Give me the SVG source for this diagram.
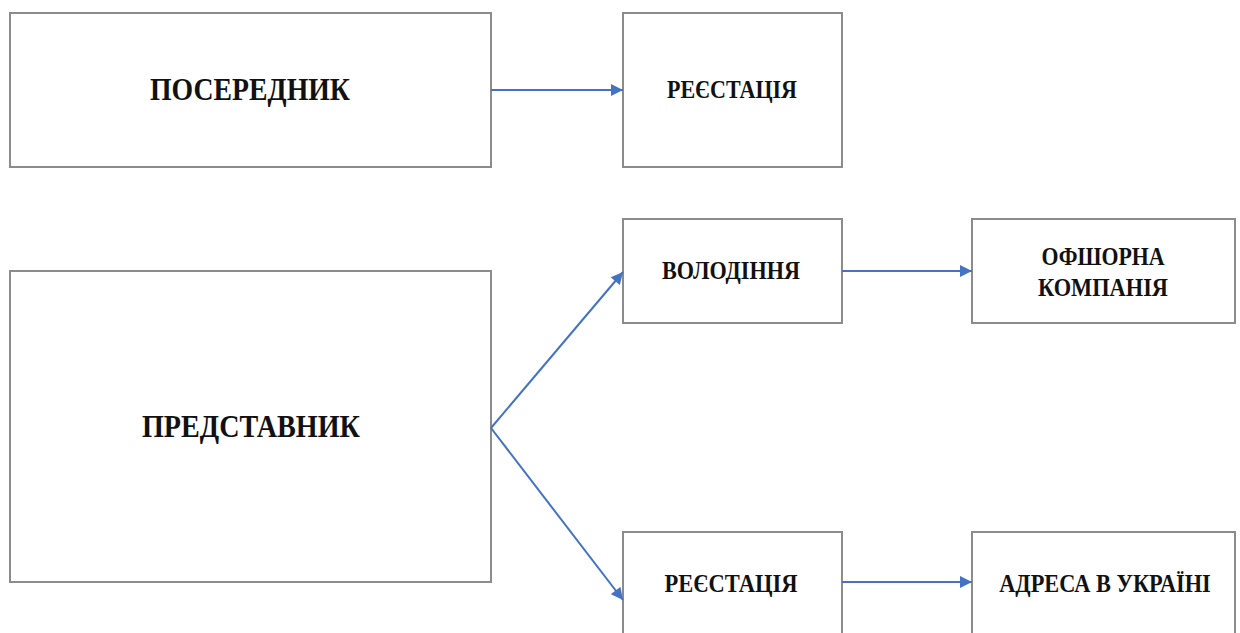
<svg xmlns="http://www.w3.org/2000/svg" width="1240" height="633" viewBox="0 0 1240 633">
<style>
.box{fill:#fff;stroke:#8c8c8c;stroke-width:2}
.big{font-family:"Liberation Serif","Times New Roman",serif;font-weight:bold;font-size:32px;fill:#111;text-anchor:middle}
.sm{font-family:"Liberation Serif","Times New Roman",serif;font-weight:bold;font-size:26px;fill:#111;text-anchor:middle}
.conn{stroke:#4472C4;stroke-width:2;fill:none;marker-end:url(#ah)}
</style>
<defs>
<marker id="ah" viewBox="0 0 10 10" refX="10" refY="5" markerWidth="13" markerHeight="12" markerUnits="userSpaceOnUse" orient="auto">
<path d="M0,0 L10,5 L0,10 z" fill="#4472C4"/>
</marker>
</defs>
<rect width="1240" height="633" fill="#fff"/>
<g id="n-poserednyk"><rect class="box" x="10" y="13" width="481" height="154"/><text class="big" x="250" y="100" textLength="200" lengthAdjust="spacingAndGlyphs">ПОСЕРЕДНИК</text></g>
<g id="n-reiestratsiia1"><rect class="box" x="623" y="13" width="219" height="154"/><text class="sm" x="732" y="98" textLength="130" lengthAdjust="spacingAndGlyphs">РЕЄСТАЦІЯ</text></g>
<g id="n-predstavnyk"><rect class="box" x="10" y="271" width="481" height="311"/><text class="big" x="251" y="437" textLength="218" lengthAdjust="spacingAndGlyphs">ПРЕДСТАВНИК</text></g>
<g id="n-volodinnia"><rect class="box" x="623" y="219" width="219" height="104"/><text class="sm" x="731" y="279" textLength="138" lengthAdjust="spacingAndGlyphs">ВОЛОДІННЯ</text></g>
<g id="n-offshore"><rect class="box" x="972" y="219" width="263" height="104"/><text class="sm" x="1103" y="265" textLength="123" lengthAdjust="spacingAndGlyphs">ОФШОРНА</text><text class="sm" x="1103" y="296" textLength="130" lengthAdjust="spacingAndGlyphs">КОМПАНІЯ</text></g>
<g id="n-reiestratsiia2"><rect class="box" x="623" y="532" width="219" height="110"/><text class="sm" x="731" y="592" textLength="133" lengthAdjust="spacingAndGlyphs">РЕЄСТАЦІЯ</text></g>
<g id="n-adresa"><rect class="box" x="972" y="532" width="263" height="110"/><text class="sm" transform="translate(1105,592) scale(0.86,1)" x="0" y="0" font-size="24">АДРЕСА В УКРАЇНІ</text></g>
<g id="connectors">
<line class="conn" x1="491" y1="90" x2="623" y2="90"/>
<line class="conn" x1="491" y1="428" x2="623" y2="272"/>
<line class="conn" x1="491" y1="428" x2="623" y2="600"/>
<line class="conn" x1="842" y1="271" x2="972" y2="271"/>
<line class="conn" x1="842" y1="582" x2="972" y2="582"/>
</g>
</svg>
